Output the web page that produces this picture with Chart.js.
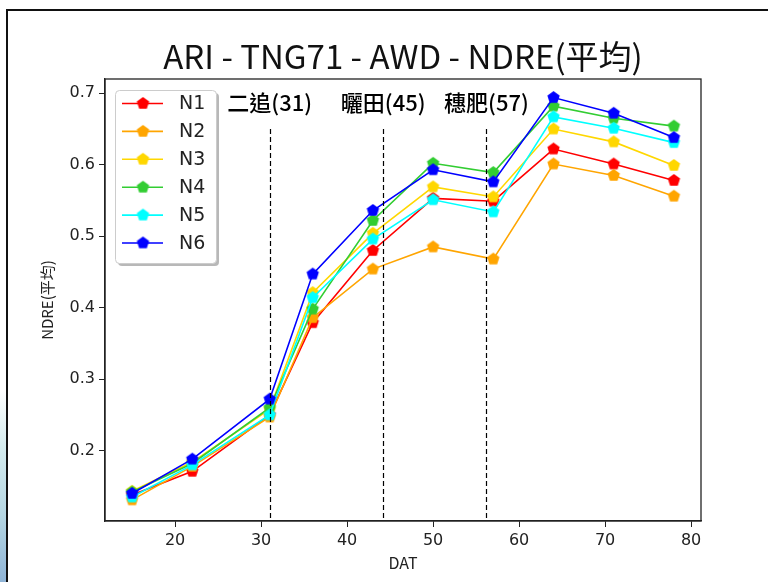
<!DOCTYPE html>
<html>
<head>
<meta charset="utf-8">
<script src="https://cdn.jsdelivr.net/npm/chart.js@4.4.1/dist/chart.umd.min.js"></script>
<style>
  html, body { margin: 0; padding: 0; background: #fff; }
  #wrap { position: relative; width: 768px; height: 582px; overflow: hidden; background: #fff; }
  #side { position: absolute; left: 0; top: 390px; width: 6px; height: 192px;
          background: linear-gradient(to bottom, #ffffff, #d4ebee 30%, #b5d6e2 65%, #8fb4d6); }
  #frame { position: absolute; left: 6px; top: 9px; right: -10px; bottom: -10px;
           border-top: 2px solid #111; border-left: 2px solid #111; }
  canvas { position: absolute; left: 0; top: 0; }
</style>
</head>
<body>
<div id="wrap">
  <div id="side"></div>
  <div id="frame"></div>
  <canvas id="chart" width="768" height="582"></canvas>
</div>
<script>
// NDRE mean by days after transplanting
const days = [15, 22, 31, 36, 43, 50, 57, 64, 71, 78];
const seriesNames = ["N1", "N2", "N3", "N4", "N5", "N6"];
const n1 = [0.138, 0.171, 0.250, 0.379, 0.480, 0.553, 0.549, 0.622, 0.601, 0.578];
const n2 = [0.131, 0.178, 0.247, 0.386, 0.454, 0.485, 0.468, 0.601, 0.585, 0.556];
const n3 = [0.143, 0.184, 0.258, 0.421, 0.504, 0.569, 0.555, 0.650, 0.632, 0.599];
const n4 = [0.142, 0.182, 0.260, 0.398, 0.522, 0.602, 0.589, 0.682, 0.665, 0.654];
const n5 = [0.135, 0.180, 0.250, 0.414, 0.496, 0.551, 0.534, 0.667, 0.651, 0.631];
const n6 = [0.140, 0.188, 0.272, 0.447, 0.536, 0.593, 0.576, 0.694, 0.672, 0.638];
const xTicks = [20, 30, 40, 50, 60, 70, 80];
const yTicks = [0.2, 0.3, 0.4, 0.5, 0.6, 0.7];
const eventDays = [31, 44.2, 56.2];
const eventLabels = ["二追(31)", "曬田(45)", "穗肥(57)"];

const seriesColors = ["#ff0000", "#ffa500", "#ffd700", "#32cd32", "#00ffff", "#0000ff"];
const cjk = "'Noto Sans CJK TC', 'Noto Sans CJK SC', sans-serif";
const sans = "'DejaVu Sans', sans-serif";

function pentagon(color) {
  const c = document.createElement("canvas");
  c.width = 15; c.height = 15;
  const g = c.getContext("2d");
  g.beginPath();
  for (let k = 0; k < 5; k++) {
    const a = -Math.PI / 2 + k * 2 * Math.PI / 5;
    const px = 7.5 + 6.5 * Math.cos(a), py = 7.5 + 6.5 * Math.sin(a);
    if (k) g.lineTo(px, py); else g.moveTo(px, py);
  }
  g.closePath();
  g.fillStyle = color;
  g.fill();
  return c;
}

const values = [n1, n2, n3, n4, n5, n6];
const markers = seriesColors.map(pentagon);

const datasets = seriesNames.map((name, i) => ({
  label: name,
  data: days.map((d, j) => ({ x: d, y: values[i][j] })),
  borderColor: seriesColors[i],
  backgroundColor: seriesColors[i],
  borderWidth: 1.6,
  pointStyle: markers[i],
  pointRadius: 6,
  tension: 0,
  order: seriesNames.length - 1 - i
}));

const extras = {
  id: "extras",
  afterDatasetsDraw(chart) {
    const { ctx, chartArea: a, scales: { x, y } } = chart;
    ctx.save();
    // event lines and labels
    ctx.strokeStyle = "#000";
    ctx.lineWidth = 1.2;
    ctx.setLineDash([5, 3]);
    const top = y.getPixelForValue(0.65);
    eventDays.forEach(d => {
      const px = Math.round(x.getPixelForValue(d)) + 0.5;
      ctx.beginPath();
      ctx.moveTo(px, top);
      ctx.lineTo(px, a.bottom);
      ctx.stroke();
    });
    ctx.setLineDash([]);
    ctx.fillStyle = "#000";
    ctx.font = "500 22px " + cjk;
    ctx.textAlign = "center";
    ctx.textBaseline = "middle";
    eventDays.forEach((d, i) => {
      ctx.fillText(eventLabels[i], x.getPixelForValue(d), 103);
    });
    // frame
    ctx.strokeStyle = "#222";
    ctx.lineWidth = 1.3;
    ctx.strokeRect(a.left, a.top, a.right - a.left, a.bottom - a.top);
    // legend
    const lx = 115, ly = 90, lw = 101, lh = 173;
    ctx.fillStyle = "rgba(0,0,0,0.28)";
    ctx.beginPath();
    ctx.roundRect(lx + 3, ly + 3, lw, lh, 4);
    ctx.fill();
    ctx.fillStyle = "#fff";
    ctx.strokeStyle = "#cccccc";
    ctx.lineWidth = 1;
    ctx.beginPath();
    ctx.roundRect(lx + 0.5, ly + 0.5, lw, lh, 4);
    ctx.fill();
    ctx.stroke();
    ctx.font = "19px " + sans;
    ctx.textAlign = "left";
    chart.data.datasets.forEach((ds, i) => {
      const ry = 103.5 + i * 27.9;
      ctx.strokeStyle = ds.borderColor;
      ctx.lineWidth = 1.6;
      ctx.beginPath();
      ctx.moveTo(122, ry);
      ctx.lineTo(163, ry);
      ctx.stroke();
      ctx.drawImage(ds.pointStyle, 143 - 7.5, ry - 7.5);
      ctx.fillStyle = "#222";
      ctx.fillText(ds.label, 179, ry + 1);
    });
    ctx.restore();
  }
};

new Chart(document.getElementById("chart"), {
  type: "line",
  data: { datasets },
  options: {
    responsive: false,
    animation: false,
    devicePixelRatio: 1,
    layout: { padding: { left: 0, right: 67, top: 0, bottom: 0 } },
    plugins: {
      legend: { display: false },
      tooltip: { enabled: false },
      title: {
        display: true,
        fullSize: false,
        text: "ARI - TNG71 - AWD - NDRE(平均)",
        color: "#111",
        font: { family: cjk, size: 33, weight: "normal", lineHeight: 1.2 },
        padding: { top: 37, bottom: 2.4 }
      }
    },
    scales: {
      x: {
        type: "linear",
        min: 11.85,
        max: 81.15,
        afterFit: s => { s.height = 61; },
        afterBuildTicks: s => { s.ticks = xTicks.map(v => ({ value: v })); },
        grid: { drawOnChartArea: false, drawTicks: true, tickLength: 6, color: "#222" },
        border: { display: true, color: "#222", width: 1.3 },
        ticks: { color: "#222", font: { family: sans, size: 16 }, padding: 4, maxRotation: 0 },
        title: { display: true, text: "DAT", color: "#222", font: { family: cjk, size: 16 }, padding: { top: 0, bottom: 9 } }
      },
      y: {
        type: "linear",
        min: 0.1015,
        max: 0.72,
        afterFit: s => { s.width = 105; },
        afterBuildTicks: s => { s.ticks = yTicks.map(v => ({ value: v })); },
        grid: { drawOnChartArea: false, drawTicks: true, tickLength: 6, color: "#222" },
        border: { display: true, color: "#222", width: 1.3 },
        ticks: { color: "#222", font: { family: sans, size: 16 }, padding: 4, callback: v => v.toFixed(1) },
        title: { display: true, text: "NDRE(平均)", color: "#222", font: { family: cjk, size: 15 }, padding: { top: 38, bottom: 0 } }
      }
    }
  },
  plugins: [extras]
});
</script>
</body>
</html>
